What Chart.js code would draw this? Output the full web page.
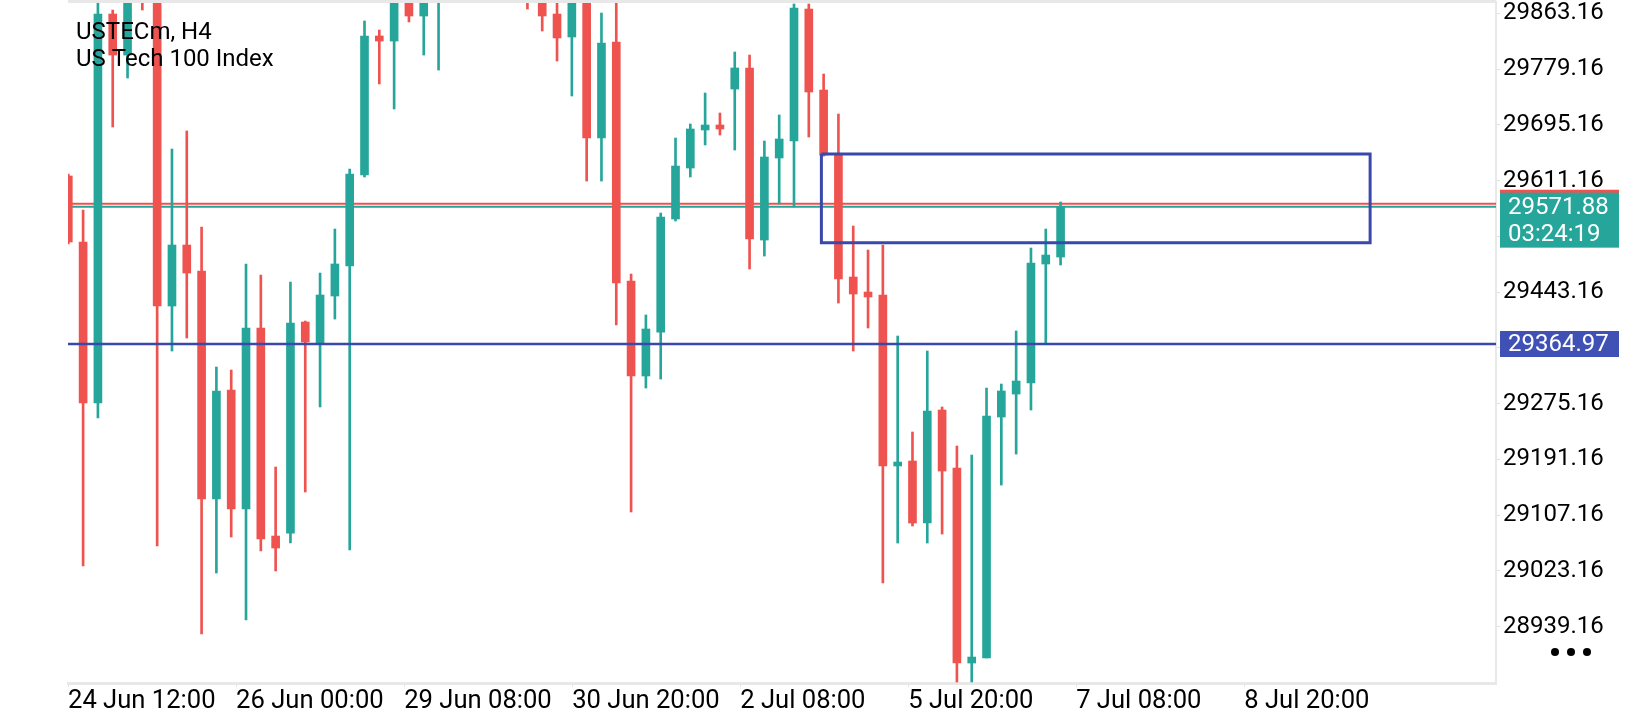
<!DOCTYPE html>
<html>
<head>
<meta charset="utf-8">
<title>USTECm, H4</title>
<script src="https://cdn.jsdelivr.net/npm/chart.js@4.4.1/dist/chart.umd.min.js"></script>
<style>
  html, body { margin: 0; padding: 0; background: #fff; }
  #wrap { width: 1640px; height: 720px; position: relative; }
</style>
</head>
<body>
<div id="wrap"><canvas id="chart"></canvas></div>
<script>
// H4 candles (null = candle above the visible range)
const opens = [29618.1, 29518.6, 29276.1, 29862.1, 29800.3, 29920.0, 29890.0, 29422.2, 29514.1, 29474.9,
  29131.5, 29295.7, 29116.4, 29389.1, 29075.7, 29080.2, 29398.1, 29366.5, 29437.3, 29482.5,
  29619.6, 29829.0, 29821.4, 29895.0, 29859.1, 29900.0, null, null, null, null,
  null, 29900.0, 29890.0, 29862.1, 29827.5, 29888.0, 29675.3, 29819.9, 29459.9, 29316.8,
  29383.0, 29553.3, 29630.1, 29687.4, 29694.9, 29749.1, 29780.8, 29521.6, 29645.2, 29670.8,
  29869.6, 29747.6, 29649.7, 29465.9, 29443.3, 29438.8, 29181.2, 29188.7, 29095.3, 29265.5,
  29178.2, 28884.4, 28891.9, 29255.0, 29289.6, 29306.2, 29485.5, 29496.0];
const highs = [29621.1, 29566.8, 29885.0, 29868.1, 29900.0, 29935.0, 29910.0, 29658.7, 29685.9, 29541.2,
  29330.3, 29325.8, 29485.5, 29468.9, 29179.7, 29458.4, 29399.6, 29471.9, 29538.2, 29628.6,
  29851.6, 29838.0, 29900.0, 29905.0, 29900.0, 29940.0, null, null, null, null,
  null, 29910.0, 29900.0, 29882.0, 29898.0, 29895.0, 29863.6, 29882.0, 29470.4, 29408.7,
  29562.3, 29675.3, 29696.4, 29743.1, 29713.0, 29804.9, 29800.3, 29670.8, 29710.0, 29877.2,
  29877.2, 29771.7, 29711.5, 29542.7, 29506.6, 29514.1, 29377.0, 29232.4, 29354.4, 29270.1,
  29211.3, 29197.7, 29298.7, 29304.7, 29384.6, 29509.6, 29538.2, 29578.9];
const lows = [29515.6, 29030.5, 29253.5, 29691.9, 29765.7, 29868.1, 29060.7, 29354.4, 29374.0, 28928.1,
  29020.0, 29074.2, 28949.2, 29053.1, 29023.0, 29065.2, 29142.0, 29270.1, 29402.6, 29054.6,
  29616.6, 29756.7, 29719.0, 29850.1, 29800.3, 29777.7, null, null, null, null,
  null, 29869.6, 29836.5, 29791.3, 29738.6, 29610.5, 29610.5, 29393.6, 29111.9, 29298.7,
  29312.2, 29550.3, 29616.6, 29664.8, 29679.8, 29657.2, 29478.0, 29497.5, 29575.9, 29571.4,
  29676.8, 29648.0, 29426.7, 29354.4, 29389.1, 29004.9, 29065.2, 29090.8, 29065.2, 29078.7,
  28855.8, 28855.8, 28891.9, 29152.5, 29199.2, 29265.5, 29366.5, 29484.0];
const closes = [29518.6, 29276.1, 29862.1, 29800.3, 29890.0, 29895.0, 29422.2, 29514.1, 29471.9, 29131.5,
  29294.2, 29116.4, 29389.1, 29071.2, 29057.6, 29396.6, 29368.0, 29438.8, 29485.5, 29621.1,
  29829.0, 29821.4, 29888.0, 29859.1, 29892.0, 29930.0, null, null, null, null,
  null, 29890.0, 29859.1, 29826.0, 29888.0, 29675.3, 29818.4, 29456.9, 29316.8, 29387.6,
  29556.3, 29633.1, 29688.9, 29694.9, 29688.9, 29780.8, 29523.2, 29646.7, 29673.8, 29871.2,
  29744.6, 29649.7, 29462.9, 29440.3, 29435.8, 29181.2, 29187.2, 29095.3, 29264.0, 29173.6,
  28884.4, 28893.4, 29256.5, 29294.2, 29309.2, 29487.0, 29499.0, 29571.88];

// price axis
const yMin = 28854.3;
const yMax = 29880.2;
const yTickValues = [28939.16, 29023.16, 29107.16, 29191.16, 29275.16, 29359.16,
  29443.16, 29527.16, 29611.16, 29695.16, 29779.16, 29863.16];
const yTickLabels = ['28939.16', '29023.16', '29107.16', '29191.16', '29275.16', '',
  '29443.16', '', '29611.16', '29695.16', '29779.16', '29863.16'];

// time axis (in candle numbers)
const xMin = 0.98;
const xMax = 97.4;
const xTickValues = [0.98, 12.33, 23.68, 35.02, 46.37, 57.71, 69.05, 80.4];
const xTickLabels = ['24 Jun 12:00', '26 Jun 00:00', '29 Jun 08:00', '30 Jun 20:00',
  '2 Jul 08:00', '5 Jul 20:00', '7 Jul 08:00', '8 Jul 20:00'];

// levels
const askPrice = 29576.3;
const bidPrice = 29571.88;
const barTimer = '03:24:19';
const levelPrice = 29364.97;
const zoneStart = 51.85;
const zoneEnd = 88.9;
const zoneTop = 29651.2;
const zoneBottom = 29517.7;

const symbolName = 'USTECm, H4';
const symbolDesc = 'US Tech 100 Index';

const UP = '#26a69a';
const DOWN = '#ef5350';
const BLUE = '#3949ab';
const LABEL_BLUE = '#3f51b5';

const bodies = [];
const wicks = [];
const colors = [];
opens.forEach((o, k) => {
  if (o === null) return;
  const n = k + 1;
  bodies.push({ x: n, y: [o, closes[k]] });
  wicks.push({ x: n, y: [lows[k], highs[k]] });
  colors.push(closes[k] >= o ? UP : DOWN);
});

function hLine(price) {
  return [{ x: xMin, y: price }, { x: xMax, y: price }];
}

const overlay = {
  id: 'overlay',
  afterDraw(chart) {
    const { ctx, chartArea, scales: { y } } = chart;
    ctx.save();
    // top frame line
    ctx.fillStyle = '#e8e8e8';
    ctx.fillRect(chartArea.left, 0, chartArea.right - chartArea.left, 3);

    // symbol text
    ctx.fillStyle = '#000';
    ctx.font = '24px Roboto';
    ctx.textBaseline = 'middle';
    ctx.textAlign = 'left';
    ctx.fillText(symbolName, chartArea.left + 8, 33);
    ctx.fillText(symbolDesc, chartArea.left + 8, 60);

    // price tags on the axis
    const bx = chartArea.right + 4;
    const bw = 119;
    const ay = y.getPixelForValue(askPrice);
    ctx.fillStyle = DOWN;
    ctx.fillRect(bx, ay - 14, bw, 28);
    const by = y.getPixelForValue(bidPrice);
    ctx.fillStyle = UP;
    ctx.fillRect(bx, by - 14, bw, 55);
    ctx.fillStyle = '#fff';
    ctx.fillText(bidPrice.toFixed(2), bx + 8, by + 1);
    ctx.fillText(barTimer, bx + 8, by + 28);
    const ly = y.getPixelForValue(levelPrice);
    ctx.fillStyle = LABEL_BLUE;
    ctx.fillRect(bx, ly - 13, bw, 26);
    ctx.fillStyle = '#fff';
    ctx.fillText(levelPrice.toFixed(2), bx + 8, ly + 1);

    // menu dots
    ctx.fillStyle = '#000';
    [0, 16, 32].forEach(d => {
      ctx.beginPath();
      ctx.arc(bx + 55 + d, 652, 4, 0, Math.PI * 2);
      ctx.fill();
    });
    ctx.restore();
  }
};

Chart.defaults.font.family = 'Roboto';
Chart.defaults.font.size = 24;
Chart.defaults.color = '#000';

new Chart(document.getElementById('chart'), {
  type: 'bar',
  data: {
    datasets: [
      { type: 'line', data: hLine(askPrice), borderColor: DOWN, borderWidth: 2, pointRadius: 0, order: 10 },
      { type: 'line', data: hLine(bidPrice), borderColor: UP, borderWidth: 2, pointRadius: 0, order: 10 },
      { data: wicks, backgroundColor: colors, barThickness: 2, grouped: false, borderWidth: 0, order: 6 },
      { data: bodies, backgroundColor: colors, barThickness: 8, grouped: false, borderWidth: 0, order: 5 },
      { type: 'line', data: hLine(levelPrice), borderColor: BLUE, borderWidth: 2.5, pointRadius: 0, order: 2 },
      {
        type: 'line',
        data: [
          { x: zoneStart, y: zoneTop }, { x: zoneEnd, y: zoneTop },
          { x: zoneEnd, y: zoneBottom }, { x: zoneStart, y: zoneBottom },
          { x: zoneStart, y: zoneTop }
        ],
        borderColor: BLUE, borderWidth: 3, pointRadius: 0, fill: false, tension: 0, order: 1
      }
    ]
  },
  options: {
    responsive: true,
    maintainAspectRatio: false,
    animation: false,
    layout: { padding: { left: 68, top: 2, right: 0, bottom: 0 } },
    plugins: { legend: { display: false }, tooltip: { enabled: false } },
    scales: {
      x: {
        type: 'linear',
        position: 'bottom',
        min: xMin,
        max: xMax,
        offset: false,
        afterBuildTicks: s => { s.ticks = xTickValues.map(v => ({ value: v })); },
        afterFit: s => { s.height = 37; s.paddingLeft = 0; s.paddingRight = 0; },
        ticks: {
          autoSkip: false, maxRotation: 0, align: 'start', padding: -1,
          font: { size: 25.6 },
          callback: (v, i) => xTickLabels[i]
        },
        grid: { offset: false, drawOnChartArea: false, tickLength: 4, color: '#e0e0e0' },
        border: { color: '#e8e8e8', width: 3 }
      },
      y: {
        position: 'right',
        min: yMin,
        max: yMax,
        beginAtZero: false,
        afterBuildTicks: s => { s.ticks = yTickValues.map(v => ({ value: v })); },
        afterFit: s => { s.width = 144; s.paddingTop = 0; s.paddingBottom = 0; },
        ticks: { padding: 3, font: { size: 24 }, callback: (v, i) => yTickLabels[i] },
        grid: { drawOnChartArea: false, tickLength: 4, color: '#e0e0e0' },
        border: { color: '#e8e8e8', width: 2 }
      }
    }
  },
  plugins: [overlay]
});
</script>
</body>
</html>
